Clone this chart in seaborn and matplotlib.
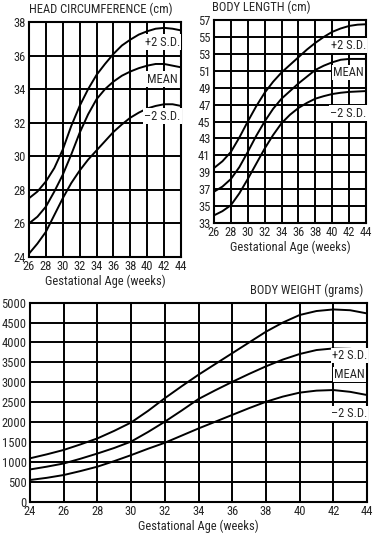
import seaborn as sns
import matplotlib.pyplot as plt
from matplotlib import font_manager

# growth curves
head_weeks = list(range(26, 45))
head_plus2 = [27.5, 27.9, 28.5, 29.3, 30.4, 31.8, 33.0, 34.0, 34.85, 35.5, 36.1, 36.6, 36.95, 37.25, 37.45, 37.6, 37.65, 37.6, 37.5]
head_mean = [26.0, 26.4, 27.0, 27.9, 28.9, 30.1, 31.4, 32.5, 33.4, 34.0, 34.45, 34.8, 35.05, 35.25, 35.4, 35.5, 35.5, 35.4, 35.3]
head_minus2 = [24.2, 24.8, 25.5, 26.5, 27.5, 28.4, 29.15, 29.8, 30.35, 30.9, 31.45, 31.9, 32.3, 32.6, 32.85, 33.0, 33.1, 33.1, 33.0]

length_weeks = list(range(26, 45))
length_plus2 = [39.5, 40.3, 41.4, 43.1, 45.0, 46.8, 48.4, 49.7, 50.8, 51.7, 52.6, 53.5, 54.3, 55.0, 55.6, 56.0, 56.3, 56.45, 56.5]
length_mean = [36.7, 37.3, 38.2, 39.6, 41.4, 43.3, 45.0, 46.5, 47.7, 48.6, 49.5, 50.3, 51.1, 51.6, 52.0, 52.3, 52.4, 52.4, 52.4]
length_minus2 = [33.9, 34.4, 35.1, 36.5, 38.2, 40.0, 41.8, 43.4, 44.8, 45.8, 46.6, 47.2, 47.7, 48.0, 48.25, 48.4, 48.5, 48.55, 48.6]

weight_weeks = list(range(24, 45))
weight_plus2 = [1090, 1190, 1300, 1440, 1590, 1780, 1990, 2280, 2600, 2900, 3190, 3460, 3730, 4000, 4270, 4500, 4690, 4790, 4830, 4810, 4730]
weight_mean = [810, 880, 960, 1080, 1210, 1350, 1510, 1750, 2010, 2290, 2580, 2800, 3010, 3210, 3400, 3570, 3710, 3810, 3850, 3840, 3800]
weight_minus2 = [545, 600, 670, 770, 880, 1020, 1170, 1330, 1480, 1660, 1840, 2010, 2180, 2350, 2510, 2640, 2740, 2790, 2805, 2760, 2680]

curve_labels = ["+2 S.D.", "MEAN", "\u20132 S.D."]

sns.set_style("white")

# a condensed face if there is one, else a smaller regular one
installed = {f.name for f in font_manager.fontManager.ttflist}
fs = 8.0
family = ["Liberation Sans", "DejaVu Sans"]
for cand in ["Liberation Sans Narrow", "Roboto Condensed", "Open Sans Condensed"]:
    if cand in installed:
        family = [cand, "DejaVu Sans"]
        fs = 9.0
        break
plt.rcParams['font.family'] = family

fig = plt.figure(figsize=(3.76, 5.34), dpi=100)
ax_head = fig.add_axes([0.0771, 0.5187, 0.4043, 0.4401])
ax_len = fig.add_axes([0.5691, 0.5824, 0.4043, 0.3801])
ax_wt = fig.add_axes([0.0798, 0.0605, 0.8963, 0.3727])


def style_axes(ax, xticks, yticks):
    ax.set_xlim(xticks[0], xticks[-1])
    ax.set_ylim(yticks[0], yticks[-1])
    ax.set_xticks(xticks)
    ax.set_yticks(yticks)
    ax.grid(True, color="black", linewidth=1.4)
    ax.set_axisbelow(True)
    for s in ax.spines.values():
        s.set_color("black")
        s.set_linewidth(1.5)
    ax.tick_params(length=0, pad=2.5, labelsize=fs)
    ax.set_xlabel("Gestational Age (weeks)", fontsize=fs, labelpad=1)
    ax.set_ylabel("")


def draw_curves(ax, weeks, series):
    for vals in series:
        sns.lineplot(x=weeks, y=vals, ax=ax, color="black", linewidth=1.4)


def put_labels(ax, x, ys, pad=1.0):
    for txt, y in zip(curve_labels, ys):
        ax.text(x, y, txt, ha="center", va="center", fontsize=fs,
                bbox=dict(facecolor="white", edgecolor="none", pad=pad), zorder=5)


# head circumference
draw_curves(ax_head, head_weeks, [head_plus2, head_mean, head_minus2])
style_axes(ax_head, list(range(26, 45, 2)), list(range(24, 39, 2)))
put_labels(ax_head, 41.8, [36.8, 34.6, 32.4])
ax_head.text(0.0, 1.025, "HEAD CIRCUMFERENCE (cm)", transform=ax_head.transAxes,
             ha="left", va="bottom", fontsize=fs)

# body length
draw_curves(ax_len, length_weeks, [length_plus2, length_mean, length_minus2])
style_axes(ax_len, list(range(26, 45, 2)), list(range(33, 58, 2)))
put_labels(ax_len, 41.9, [54.0, 50.8, 46.0])
ax_len.text(-0.01, 1.03, "BODY LENGTH (cm)", transform=ax_len.transAxes,
            ha="left", va="bottom", fontsize=fs)

# body weight
draw_curves(ax_wt, weight_weeks, [weight_plus2, weight_mean, weight_minus2])
style_axes(ax_wt, list(range(24, 45, 2)), list(range(0, 5001, 500)))
put_labels(ax_wt, 42.95, [3680, 3200, 2220], pad=0.6)
ax_wt.text(0.99, 1.03, "BODY WEIGHT (grams)", transform=ax_wt.transAxes,
           ha="right", va="bottom", fontsize=fs)

fig.savefig("out.png", dpi=100)
